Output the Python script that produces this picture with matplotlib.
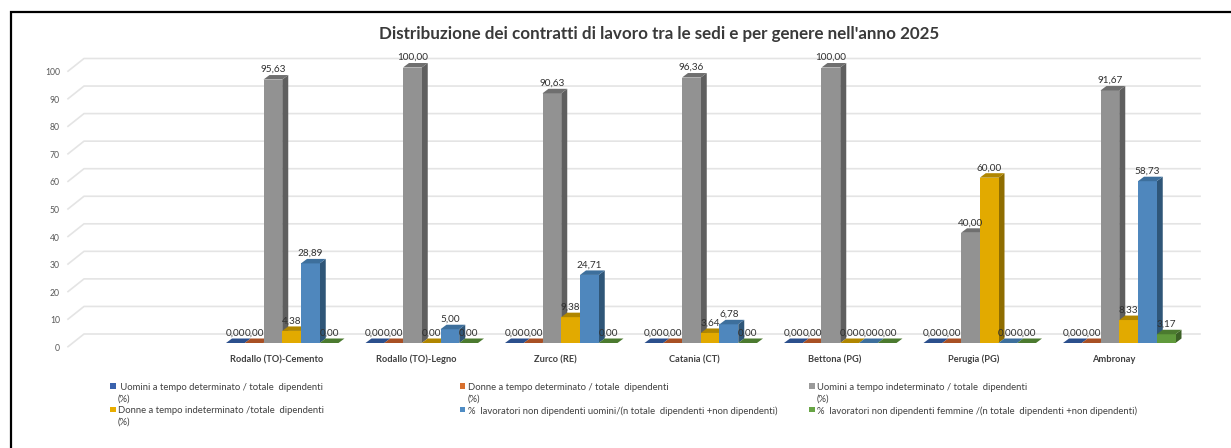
import matplotlib
matplotlib.use("Agg")
from matplotlib import pyplot as plt
from matplotlib.patches import Polygon, Rectangle

W, H = 1231, 448

plt.rcParams['font.family'] = ['Lato', 'DejaVu Sans']

# first category is empty in the original chart
sites = ["", "Rodallo (TO)-Cemento", "Rodallo (TO)-Legno", "Zurco (RE)", "Catania (CT)",
         "Bettona (PG)", "Perugia (PG)", "Ambronay"]
uomini_det = [None, 0, 0, 0, 0, 0, 0, 0]
donne_det = [None, 0, 0, 0, 0, 0, 0, 0]
uomini_ind = [None, 95.63, 100, 90.63, 96.36, 100, 40, 91.67]
donne_ind = [None, 4.38, 0, 9.38, 3.64, 0, 60, 8.33]
non_dip_u = [None, 28.89, 5.00, 24.71, 6.78, 0, 0, 58.73]
non_dip_f = [None, 0, 0, 0, 0, 0, 0, 3.17]

series = [uomini_det, donne_det, uomini_ind, donne_ind, non_dip_u, non_dip_f]
front_colors = ["#2f5597", "#b5562a", "#929292", "#e2aa00", "#4f87bd", "#609a3c"]
top_colors = ["#2b4f8c", "#a85024", "#6f6f6f", "#b08600", "#3d6f9c", "#4b7a2f"]
side_colors = ["#203864", "#843c0c", "#5f5f5f", "#8f6d00", "#2f5678", "#3c6126"]
legend_colors = ["#3a62ad", "#d8702e", "#9a9a9a", "#e8ad00", "#4f8cc4", "#68a545"]
legend_labels = [" Uomini a tempo determinato / totale  dipendenti\n(%)",
                 "Donne a tempo determinato / totale  dipendenti\n(%)",
                 "Uomini a tempo indeterminato / totale  dipendenti\n(%)",
                 "Donne a tempo indeterminato /totale  dipendenti\n(%)",
                 "%  lavoratori non dipendenti uomini/(n totale  dipendenti +non dipendenti)",
                 "%  lavoratori non dipendenti femmine /(n totale  dipendenti +non dipendenti)"]
legend_pos = [(110, 386), (459.5, 386), (809, 386), (110, 409.5), (459.5, 409.5), (809, 409.5)]
y_ticks = list(range(0, 110, 10))


def label_text(v):
    return f"{v:.2f}".replace(".", ",")


fig = plt.figure(figsize=(W / 100, H / 100), dpi=100)
bg = fig.add_axes([0, 0, 1, 1])
bg.set_xlim(0, W)
bg.set_ylim(H, 0)
bg.axis("off")
# frame is cut by the image on the right and at the bottom
bg.plot([10.5, 10.5, W], [H, 12.5, 12.5], color="black", lw=1.6, solid_joinstyle="miter")

# front plane of the 3d chart: x in categories, y in percent
x_left, x_right = 68, 1184
y_zero, y_top = 343, 67.5
ax = fig.add_axes([x_left / W, 1 - y_zero / H, (x_right - x_left) / W, (y_zero - y_top) / H])
ax.set_xlim(0, len(sites))
ax.set_ylim(0, 100)
ax.axis("off")
ax.patch.set_alpha(0)

px_x = len(sites) / (x_right - x_left)
px_y = 100 / (y_zero - y_top)
wall_dx, wall_dy = 16 * px_x, 12.7 * px_y
depth_dx, depth_dy = 6 * px_x, 4.5 * px_y
bar_w = 18.75 * px_x
tick_shift = 3.7 * px_y
# the group sits a bit left of centre in the category slot
group_start = (226 - 68 - 139.5) * px_x

for t in y_ticks:
    y0 = t - tick_shift
    ax.plot([0, wall_dx, len(sites) + wall_dx], [y0, y0 + wall_dy, y0 + wall_dy],
            color="#e4e4e4", lw=1.2, clip_on=False, zorder=1)
    ax.text(-8 * px_x, y0 - 1.5 * px_y, str(t), ha="right", va="center", fontsize=6.2, color="#595959",
            clip_on=False)

for i, site in enumerate(sites):
    ax.text(i + 0.5 - 1 * px_x, -7, site, ha="center", va="baseline", fontsize=6.7, fontweight="bold",
            color="#404040", clip_on=False)

for s, values in enumerate(series):
    for i, v in enumerate(values):
        if v is None:
            continue
        x0 = i + group_start + s * bar_w
        x1 = x0 + bar_w
        z = 3 + i * 10 + s
        if v > 0:
            ax.bar(x0, v, bar_w, align="edge", color=front_colors[s], zorder=z + 0.2, clip_on=False)
            ax.add_patch(Polygon([(x1, 0), (x1 + depth_dx, depth_dy), (x1 + depth_dx, v + depth_dy), (x1, v)],
                                 color=side_colors[s], lw=0, zorder=z + 0.1, clip_on=False))
        ax.add_patch(Polygon([(x0, v), (x1, v), (x1 + depth_dx, v + depth_dy), (x0 + depth_dx, v + depth_dy)],
                             color=top_colors[s], lw=0, zorder=z + 0.3, clip_on=False))
        ax.text(x0 + bar_w / 2, v + 10 * px_y, label_text(v), ha="center", va="center",
                fontsize=7.2, color="#303030", zorder=200, clip_on=False)

bg.text(659, 34, "Distribuzione dei contratti di lavoro tra le sedi e per genere nell'anno 2025",
        ha="center", va="center", fontsize=12.25, fontweight="bold", color="#3a3a3a")

for s, label in enumerate(legend_labels):
    lx, ly = legend_pos[s]
    bg.add_patch(Rectangle((lx, ly - 2.5), 5.5, 5.5, color=legend_colors[s], lw=0))
    bg.text(lx + 8, ly - 3.5, label, ha="left", va="top", fontsize=6.85, color="#404040", linespacing=1.42)

fig.savefig("out.png", dpi=100)
